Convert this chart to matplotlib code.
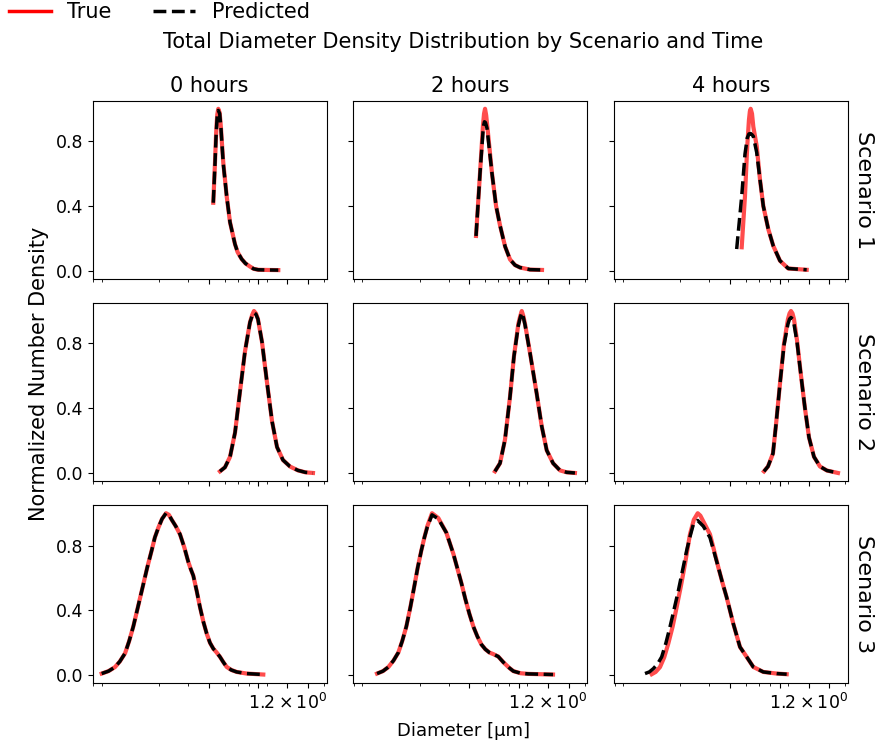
import matplotlib
matplotlib.use("Agg")
import matplotlib.pyplot as plt
from matplotlib.lines import Line2D
import numpy as np

scenarios = ["Scenario 1", "Scenario 2", "Scenario 3"]
times = ["0 hours", "2 hours", "4 hours"]

# diameters in um, normalized densities
s1_0h_x = [0.4273, 0.4376, 0.4437, 0.4480, 0.4518, 0.4582, 0.4673, 0.4758, 0.4805, 0.4913, 0.5152, 0.5395, 0.5785, 0.60, 0.6352, 0.67, 0.7131, 0.75, 0.8008, 0.90, 1.0586]
s1_0h_true = [0.42, 0.667, 0.83, 0.91, 0.965, 1.0, 0.975, 0.88, 0.81, 0.667, 0.46, 0.30, 0.164, 0.115, 0.072, 0.045, 0.026, 0.012, 0.006, 0.005, 0.004]
s1_0h_pred = [0.42, 0.66, 0.82, 0.90, 0.96, 0.99, 0.97, 0.88, 0.81, 0.66, 0.46, 0.30, 0.164, 0.115, 0.072, 0.045, 0.026, 0.012, 0.006, 0.005, 0.004]

s1_2h_x = [0.440, 0.465, 0.485, 0.492, 0.499, 0.507, 0.520, 0.550, 0.582, 0.615, 0.660, 0.707, 0.758, 0.813, 0.935, 1.105]
s1_2h_true = [0.215, 0.60, 0.90, 0.97, 1.0, 0.96, 0.85, 0.60, 0.40, 0.28, 0.15, 0.07, 0.035, 0.02, 0.007, 0.005]
s1_2h_px = [0.440, 0.465, 0.485, 0.490, 0.495, 0.502, 0.513, 0.550, 0.582, 0.615, 0.660, 0.707, 0.758, 0.813, 0.935, 1.105]
s1_2h_pred = [0.215, 0.60, 0.86, 0.90, 0.92, 0.915, 0.88, 0.60, 0.40, 0.28, 0.15, 0.07, 0.035, 0.02, 0.007, 0.005]

s1_4h_x = [0.472, 0.494, 0.510, 0.522, 0.529, 0.535, 0.545, 0.555, 0.582, 0.609, 0.638, 0.684, 0.733, 0.805, 0.904, 1.169]
s1_4h_true = [0.145, 0.46, 0.77, 0.93, 0.985, 1.0, 0.97, 0.89, 0.77, 0.564, 0.40, 0.257, 0.154, 0.062, 0.014, 0.006]
s1_4h_px = [0.440, 0.472, 0.494, 0.510, 0.522, 0.535, 0.545, 0.555, 0.582, 0.609, 0.638, 0.684, 0.733, 0.805, 0.904, 1.169]
s1_4h_pred = [0.134, 0.46, 0.72, 0.82, 0.845, 0.847, 0.84, 0.83, 0.73, 0.564, 0.40, 0.257, 0.154, 0.062, 0.014, 0.006]

s2_0h_x = [0.469, 0.503, 0.540, 0.579, 0.620, 0.665, 0.713, 0.735, 0.754, 0.775, 0.797, 0.843, 0.904, 0.970, 1.040, 1.130, 1.246, 1.393, 1.545, 1.718]
s2_0h_true = [0.01, 0.035, 0.10, 0.25, 0.50, 0.75, 0.93, 0.975, 1.0, 0.985, 0.95, 0.81, 0.56, 0.32, 0.16, 0.08, 0.04, 0.016, 0.004, 0.0]
s2_0h_pred = [0.01, 0.035, 0.10, 0.25, 0.50, 0.75, 0.93, 0.97, 0.99, 0.98, 0.95, 0.81, 0.56, 0.32, 0.16, 0.08, 0.04, 0.016, 0.004, 0.0]

s2_2h_x = [0.573, 0.615, 0.659, 0.707, 0.747, 0.794, 0.813, 0.833, 0.852, 0.872, 0.935, 1.026, 1.10, 1.18, 1.29, 1.42, 1.56, 1.75]
s2_2h_true = [0.01, 0.06, 0.205, 0.47, 0.72, 0.92, 0.964, 1.0, 0.968, 0.92, 0.74, 0.49, 0.29, 0.14, 0.06, 0.016, 0.004, 0.0]
s2_2h_pred = [0.01, 0.06, 0.205, 0.47, 0.72, 0.91, 0.955, 0.99, 0.96, 0.915, 0.74, 0.49, 0.29, 0.14, 0.06, 0.016, 0.004, 0.0]

s2_4h_x = [0.644, 0.681, 0.730, 0.762, 0.805, 0.852, 0.900, 0.920, 0.939, 0.959, 0.979, 1.021, 1.080, 1.141, 1.207, 1.294, 1.407, 1.551, 1.809]
s2_4h_true = [0.01, 0.04, 0.12, 0.30, 0.55, 0.80, 0.95, 0.985, 1.0, 0.985, 0.95, 0.82, 0.60, 0.40, 0.22, 0.10, 0.04, 0.015, 0.0]
s2_4h_pred = [0.01, 0.04, 0.12, 0.30, 0.55, 0.79, 0.92, 0.95, 0.96, 0.95, 0.92, 0.81, 0.60, 0.40, 0.22, 0.10, 0.04, 0.015, 0.0]

s3_0h_x = [0.0900, 0.0990, 0.1084, 0.1160, 0.1247, 0.1320, 0.1399, 0.1500, 0.1608, 0.1700, 0.1808, 0.1890, 0.1984, 0.2090, 0.2209, 0.2300, 0.2391, 0.2530, 0.2685, 0.2850, 0.3014, 0.3120, 0.3232, 0.3390, 0.3549, 0.3720, 0.3897, 0.4080, 0.4273, 0.4480, 0.4693, 0.4920, 0.5152, 0.5500, 0.5923, 0.6811, 0.8587]
s3_0h_true = [0.01, 0.025, 0.05, 0.085, 0.135, 0.21, 0.30, 0.43, 0.56, 0.665, 0.77, 0.85, 0.91, 0.965, 1.0, 0.99, 0.96, 0.92, 0.87, 0.79, 0.70, 0.655, 0.615, 0.52, 0.42, 0.33, 0.257, 0.20, 0.164, 0.14, 0.113, 0.08, 0.051, 0.032, 0.02, 0.01, 0.004]
s3_0h_pred = s3_0h_true

s3_2h_x = [0.1105, 0.1200, 0.1294, 0.1390, 0.1488, 0.1570, 0.1663, 0.1760, 0.1860, 0.1950, 0.2051, 0.2140, 0.2230, 0.2381, 0.2600, 0.2907, 0.3205, 0.3390, 0.3584, 0.3790, 0.4008, 0.4240, 0.4480, 0.4740, 0.5010, 0.5300, 0.5602, 0.6000, 0.6441, 0.7000, 0.7406, 0.8200, 0.9131, 1.2884]
s3_2h_true = [0.01, 0.025, 0.05, 0.09, 0.14, 0.21, 0.30, 0.42, 0.55, 0.665, 0.77, 0.85, 0.92, 1.0, 0.97, 0.88, 0.75, 0.66, 0.57, 0.47, 0.38, 0.30, 0.24, 0.19, 0.16, 0.14, 0.13, 0.115, 0.08, 0.045, 0.025, 0.012, 0.008, 0.004]
s3_2h_pred = [0.01, 0.025, 0.05, 0.09, 0.14, 0.21, 0.30, 0.42, 0.55, 0.665, 0.77, 0.85, 0.915, 0.99, 0.965, 0.88, 0.75, 0.66, 0.57, 0.47, 0.38, 0.30, 0.24, 0.19, 0.16, 0.14, 0.13, 0.115, 0.08, 0.045, 0.025, 0.012, 0.008, 0.004]

s3_4h_x = [0.1344, 0.1420, 0.1509, 0.1600, 0.1694, 0.1800, 0.1904, 0.2020, 0.2139, 0.2293, 0.2420, 0.2554, 0.2650, 0.2761, 0.3031, 0.3210, 0.3403, 0.3610, 0.3827, 0.4197, 0.4608, 0.5059, 0.5547, 0.6379, 0.7690, 0.8842]
s3_4h_true = [0.006, 0.02, 0.05, 0.11, 0.195, 0.30, 0.42, 0.55, 0.687, 0.87, 0.96, 1.0, 0.985, 0.95, 0.87, 0.77, 0.667, 0.57, 0.48, 0.318, 0.174, 0.113, 0.051, 0.02, 0.01, 0.006]
s3_4h_px = [0.1224, 0.1300, 0.1374, 0.1460, 0.1545, 0.1640, 0.1734, 0.1840, 0.1948, 0.2070, 0.2190, 0.2300, 0.2401, 0.2554, 0.2761, 0.3031, 0.3210, 0.3403, 0.3610, 0.3827, 0.4197, 0.4608, 0.5059, 0.5547, 0.6379, 0.7690, 0.8842]
s3_4h_pred = [0.01, 0.02, 0.04, 0.07, 0.113, 0.20, 0.297, 0.41, 0.52, 0.65, 0.77, 0.86, 0.93, 0.955, 0.92, 0.85, 0.76, 0.667, 0.57, 0.48, 0.318, 0.174, 0.113, 0.051, 0.02, 0.01, 0.006]

panels = [
    [(s1_0h_x, s1_0h_true, s1_0h_x, s1_0h_pred),
     (s1_2h_x, s1_2h_true, s1_2h_px, s1_2h_pred),
     (s1_4h_x, s1_4h_true, s1_4h_px, s1_4h_pred)],
    [(s2_0h_x, s2_0h_true, s2_0h_x, s2_0h_pred),
     (s2_2h_x, s2_2h_true, s2_2h_x, s2_2h_pred),
     (s2_4h_x, s2_4h_true, s2_4h_x, s2_4h_pred)],
    [(s3_0h_x, s3_0h_true, s3_0h_x, s3_0h_pred),
     (s3_2h_x, s3_2h_true, s3_2h_x, s3_2h_pred),
     (s3_4h_x, s3_4h_true, s3_4h_px, s3_4h_pred)],
]

fig, axes = plt.subplots(3, 3, figsize=(8.77, 7.47), dpi=100, sharex=True, sharey=True)
fig.subplots_adjust(left=0.1057, right=0.9669, bottom=0.0853, top=0.8652, wspace=0.114, hspace=0.135)

for i in range(3):
    for j in range(3):
        ax = axes[i, j]
        xt, yt, xp, yp = panels[i][j]
        ax.plot(xt, yt, color='red', alpha=0.7, lw=3, solid_joinstyle='round')
        ax.plot(xp, yp, color='black', ls='--', lw=2.5)
        ax.set_xscale('log')
        ax.tick_params(labelsize=12.5)
        if i == 0:
            ax.set_title(times[j], fontsize=15)
        if j == 2:
            ax.text(1.025, 0.5, scenarios[i], transform=ax.transAxes, rotation=270,
                    va='center', ha='left', fontsize=16)

axes[0, 0].set_xlim(0.0794, 2.08)
axes[0, 0].set_xticks(np.arange(0.4, 2.0, 0.4))
axes[0, 0].set_yticks([0.0, 0.4, 0.8])
axes[0, 0].set_ylim(-0.05, 1.05)

fig.text(0.528, 0.944, "Total Diameter Density Distribution by Scenario and Time",
         ha='center', va='center', fontsize=15)
fig.text(0.528, 0.021, "Diameter [μm]", ha='center', va='center', fontsize=13)
fig.text(0.045, 0.5, "Normalized Number Density", ha='center', va='center',
         rotation=90, fontsize=15)

handles = [Line2D([], [], color='red', lw=2.5), Line2D([], [], color='black', ls='--', lw=2.5)]
fig.legend(handles, ["True", "Predicted"], loc='upper left', bbox_to_anchor=(-0.011, 1.022),
           ncol=2, frameon=False, fontsize=15, columnspacing=2.0)

fig.savefig("out.png")
